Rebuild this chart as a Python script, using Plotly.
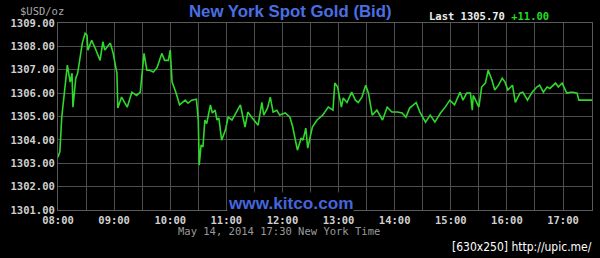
import plotly.graph_objects as go

times = ["08:00","08:02","08:04","08:10","08:13","08:15","08:16","08:19","08:21","08:26","08:29","08:31","08:32","08:36","08:40","08:45","08:48","08:50","08:56","08:59",
         "09:03","09:04","09:08","09:14","09:19","09:24","09:28","09:30","09:32","09:35","09:38","09:42","09:46","09:51","09:54","09:58",
         "10:00","10:02","10:06","10:10","10:16","10:19","10:23","10:28","10:30","10:31","10:33","10:35","10:37","10:39","10:43","10:45","10:48","10:50","10:52","10:55","10:59",
         "11:02","11:06","11:09","11:15","11:20","11:23","11:27","11:34","11:38","11:40","11:44","11:47","11:50","11:54","11:57",
         "12:03","12:08","12:11","12:16","12:20","12:22","12:25","12:27","12:32","12:37","12:43","12:49","12:54","12:56","12:59",
         "13:03","13:05","13:09","13:14","13:18","13:21","13:25","13:29","13:32","13:36","13:41","13:47","13:52","13:57",
         "14:03","14:08","14:12","14:16","14:23","14:27","14:33","14:38","14:43","14:49","14:54","14:59",
         "15:04","15:10","15:13","15:17","15:21","15:23","15:24","15:28","15:30","15:33","15:37","15:40","15:44","15:47","15:51","15:55","15:58",
         "16:01","16:06","16:09","16:14","16:17","16:22","16:27","16:32","16:35","16:39","16:43","16:46","16:52","16:55","16:59",
         "17:04","17:08","17:11","17:15","17:17","17:31"]
prices = [1303.26,1303.5,1304.97,1307.2,1306.47,1306.85,1305.4,1306.64,1306.85,1308.14,1308.56,1308.48,1307.84,1308.26,1307.9,1307.4,1308.2,1307.84,1308.14,1307.7,
          1306.85,1305.36,1305.83,1305.4,1306.04,1305.9,1306.04,1306.85,1307.7,1306.98,1306.98,1306.9,1307.1,1307.7,1307.4,1307.4,
          1307.84,1306.47,1306.04,1305.5,1305.7,1305.57,1305.7,1305.74,1304.85,1302.92,1303.78,1303.7,1304.85,1304.7,1305.5,1305.15,1305.27,1304.85,1304.93,1303.99,1304.42,
          1304.97,1304.85,1305.06,1305.5,1304.55,1305.19,1304.97,1304.63,1305.6,1305.06,1305.36,1305.83,1305.19,1305.27,1305.06,
          1305.15,1304.97,1304.55,1303.56,1304.08,1303.99,1304.5,1303.65,1304.55,1304.85,1305.06,1305.4,1305.27,1306.43,1306.26,
          1305.4,1305.79,1305.6,1306.04,1305.7,1305.6,1305.83,1306.34,1306.0,1305.06,1305.27,1304.85,1305.4,1305.19,
          1305.19,1305.15,1304.97,1305.36,1305.6,1305.19,1304.76,1305.06,1304.76,1305.15,1305.4,1305.7,
          1305.5,1306.04,1305.7,1306.0,1306.0,1305.27,1305.9,1305.6,1305.4,1306.26,1306.43,1306.98,1306.56,1306.13,1306.34,1306.64,1306.47,
          1306.13,1306.34,1305.6,1306.0,1306.04,1305.7,1306.04,1306.26,1306.34,1306.04,1306.26,1306.2,1306.43,1306.26,1306.43,
          1306.0,1306.04,1306.04,1306.0,1305.7,1305.7]

date = "2014-05-14"
x_vals = [f"{date} {t}" for t in times]

title_text = "New York Spot Gold (Bid)"
unit_text = "$USD/oz"
last_text = "Last 1305.70"
change_text = "+11.00"
watermark = "www.kitco.com"
date_text = "May 14, 2014 17:30 New York Time"
credit_text = "[630x250] http://upic.me/"

L, R, T, B = 58, 592, 23, 210
W, H = 600, 258

def px(x):
    return (x - L) / (R - L)

def py(y):
    return (B - y) / (B - T)

mono = "DejaVu Sans Mono"
fig = go.Figure()
fig.add_trace(go.Scatter(x=x_vals, y=prices, mode="lines",
                         line=dict(color="#2fd82a", width=1.6), hoverinfo="skip"))

grid = "#4e4e4e"
fig.update_layout(
    width=W, height=H,
    margin=dict(l=L, r=W - R, t=T, b=H - B),
    paper_bgcolor="black", plot_bgcolor="black",
    showlegend=False,
    xaxis=dict(type="date", range=[f"{date} 08:00", f"{date} 17:31"],
               tick0=f"{date} 08:00", dtick=3600000, tickformat="%H:%M",
               showgrid=True, gridcolor=grid, gridwidth=1.2,
               minor=dict(dtick=1800000, showgrid=True, gridcolor=grid, gridwidth=1.2),
               showline=True, linecolor="#5a5a5a", linewidth=1.2, mirror=True,
               zeroline=False, ticks="",
               tickfont=dict(family=mono, size=10.5, color="#d0d0d0", weight="bold")),
    yaxis=dict(range=[1301, 1309], dtick=1, tickformat=".2f",
               showgrid=True, gridcolor=grid, gridwidth=1.2,
               showline=True, linecolor="#5a5a5a", linewidth=1.2, mirror=True,
               zeroline=False, ticks="",
               tickfont=dict(family=mono, size=10.5, color="#d0d0d0", weight="bold")),
)

anns = [
    dict(text=title_text, x=px(290), y=py(12), xanchor="center", yanchor="middle",
         font=dict(family="Liberation Sans", size=16.8, color="#4a6fe3", weight="bold")),
    dict(text=unit_text, x=px(42), y=py(11), xanchor="center", yanchor="middle",
         font=dict(family=mono, size=10.5, color="#a8a8a8")),
    dict(text=f"{last_text} <span style='color:#22dd22'>{change_text}</span>", x=px(427), y=py(16),
         xanchor="left", yanchor="middle",
         font=dict(family=mono, size=10.5, color="#eeeeee", weight="bold")),
    dict(text=watermark, x=px(290), y=py(203), xanchor="center", yanchor="middle",
         bgcolor="black", borderpad=0,
         font=dict(family="Liberation Sans", size=17.2, color="#4466dd", weight="bold")),
    dict(text=date_text, x=px(176), y=py(231), xanchor="left", yanchor="middle",
         font=dict(family=mono, size=10.5, color="#9a9a9a")),
    dict(text=credit_text, x=px(594), y=py(247), xanchor="right", yanchor="middle",
         font=dict(family="DejaVu Sans Condensed", size=12, color="#ffffff")),
]
for a in anns:
    a.update(xref="paper", yref="paper", showarrow=False)
    fig.add_annotation(**a)

fig.write_html("out.html")
